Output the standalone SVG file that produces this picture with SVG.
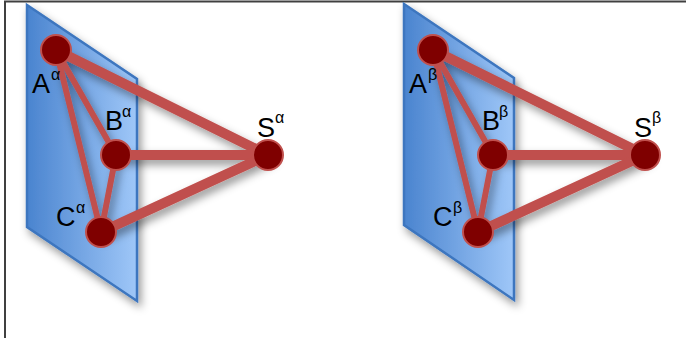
<svg xmlns="http://www.w3.org/2000/svg" width="686" height="338" viewBox="0 0 686 338">
<defs>
<linearGradient id="pg" x1="0" y1="0" x2="1" y2="0">
<stop offset="0" stop-color="#4a84cf"/>
<stop offset="1" stop-color="#9fc7f8"/>
</linearGradient>
<filter id="sh" x="-30%" y="-30%" width="160%" height="160%">
<feDropShadow dx="3" dy="5" stdDeviation="4" flood-color="#000" flood-opacity="0.4"/>
</filter>
</defs>
<style>
.plane{fill:url(#pg);stroke:#3d76bf;stroke-width:2.5;stroke-linejoin:miter}
.thick{stroke:#c0504d;stroke-width:10;stroke-linecap:round;fill:none}
.thin{stroke:#c0504d;stroke-width:6;stroke-linecap:round;fill:none}
.node{fill:#7f0000;stroke:#c0504d;stroke-width:2}
.lbl{font-family:"Liberation Sans",Arial,sans-serif;font-size:27px;fill:#000}
.sup{font-family:"Liberation Sans",Arial,sans-serif;font-size:16px;fill:#000}
.frame{stroke:#404040;stroke-width:2;fill:none}
</style>
<rect width="686" height="338" fill="#fff"/>
<path class="frame" d="M5,338 V1.5 H686"/>

<g id="panel-alpha">
<g id="plane-alpha" filter="url(#sh)"><polygon class="plane" points="27,5 137,79 137,301 27,227"/></g>
<g id="connectors-alpha" filter="url(#sh)">
<line class="thick" x1="56" y1="50" x2="268" y2="155"/>
<line class="thick" x1="116" y1="155" x2="268" y2="155"/>
<line class="thick" x1="101" y1="232" x2="268" y2="155"/>
<line class="thin" x1="56" y1="50" x2="116" y2="155"/>
<line class="thin" x1="56" y1="50" x2="101" y2="232"/>
<line class="thin" x1="116" y1="155" x2="101" y2="232"/>
</g>
<g id="node-A-alpha"><circle class="node" cx="56" cy="50" r="15"/><text class="lbl" x="32" y="93">A</text><text class="sup" x="51" y="80">α</text></g>
<g id="node-B-alpha"><circle class="node" cx="116" cy="155" r="15"/><text class="lbl" x="105" y="130">B</text><text class="sup" x="122" y="117">α</text></g>
<g id="node-C-alpha"><circle class="node" cx="101" cy="232" r="15"/><text class="lbl" x="56" y="226">C</text><text class="sup" x="76" y="213">α</text></g>
<g id="node-S-alpha"><circle class="node" cx="268" cy="155" r="15"/><text class="lbl" x="257" y="137">S</text><text class="sup" x="275" y="123">α</text></g>
</g>

<g id="panel-beta">
<g id="plane-beta" filter="url(#sh)"><polygon class="plane" points="404,4 514,78 514,300 404,225"/></g>
<g id="connectors-beta" filter="url(#sh)">
<line class="thick" x1="433" y1="50" x2="645" y2="155"/>
<line class="thick" x1="493" y1="155" x2="645" y2="155"/>
<line class="thick" x1="478" y1="232" x2="645" y2="155"/>
<line class="thin" x1="433" y1="50" x2="493" y2="155"/>
<line class="thin" x1="433" y1="50" x2="478" y2="232"/>
<line class="thin" x1="493" y1="155" x2="478" y2="232"/>
</g>
<g id="node-A-beta"><circle class="node" cx="433" cy="50" r="15"/><text class="lbl" x="409" y="93">A</text><text class="sup" x="428" y="80">β</text></g>
<g id="node-B-beta"><circle class="node" cx="493" cy="155" r="15"/><text class="lbl" x="482" y="130">B</text><text class="sup" x="499" y="117">β</text></g>
<g id="node-C-beta"><circle class="node" cx="478" cy="232" r="15"/><text class="lbl" x="433" y="226">C</text><text class="sup" x="453" y="213">β</text></g>
<g id="node-S-beta"><circle class="node" cx="645" cy="155" r="15"/><text class="lbl" x="634" y="137">S</text><text class="sup" x="652" y="123">β</text></g>
</g>
</svg>
